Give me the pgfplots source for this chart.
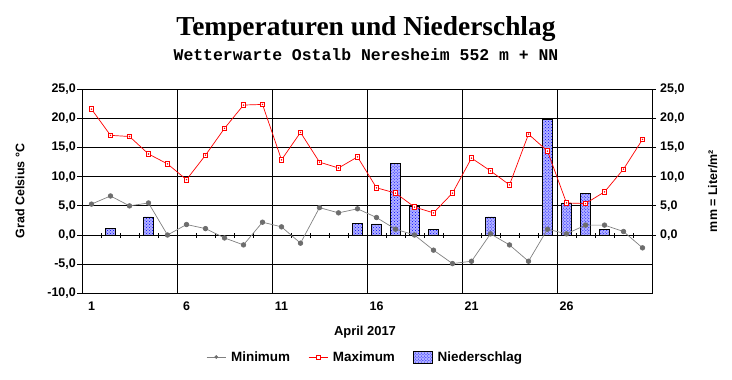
\documentclass[border=0pt]{standalone}
\usepackage{pgfplots}
\pgfplotsset{compat=1.18}
\usepackage{fontspec}
\setmainfont{Liberation Sans}
\newfontfamily\titlefont{Liberation Serif}
\newfontfamily\subfont{Liberation Mono}
\usetikzlibrary{patterns}
\definecolor{mingray}{RGB}{128,128,128}
\begin{document}
\begin{tikzpicture}
\useasboundingbox (0,0) rectangle (732bp,380bp);
\pgfplotsset{
  base/.style={scale only axis, width=570bp, height=204bp, at={(82bp,86.7bp)}, anchor=south west,
    xmin=0.5, xmax=30.5, ymin=-10, ymax=25},
  tl/.style={font=\bfseries\fontsize{12.5}{14}\selectfont},
}
% main axis
\begin{axis}[base,
  axis line style={line width=0.8bp, black},
  xtick={1,6,11,16,21,26},
  xticklabels={1,6,11,16,21,26},
  xtick style={draw=none},
  extra x ticks={5.5,10.5,15.5,20.5,25.5},
  extra x tick labels={},
  extra x tick style={grid=major, xtick style={draw=none}},
  ytick={-10,-5,0,5,10,15,20,25},
  yticklabels={{-10,0},{-5,0},{0,0},{5,0},{10,0},{15,0},{20,0},{25,0}},
  ytick pos=left,
  tick align=outside,
  major tick length=5bp,
  ytick style={line width=0.8bp, black},
  ymajorgrids,
  major grid style={line width=0.8bp, black},
  tick label style={tl},
  x tick label style={anchor=north, inner sep=0pt, yshift=-3bp},
  y tick label style={anchor=east, inner sep=0pt, xshift=-1bp},
  legend columns=3,
  legend style={at={(0.497,-0.3123)}, anchor=center, draw=none, fill=none,
    font=\bfseries\fontsize{13.5}{15}\selectfont,
    /tikz/every odd column/.append style={column sep=3bp},
    /tikz/every even column/.append style={column sep=16bp}},
]
% precipitation bars
\addplot[ybar, bar width=9.3bp, draw=black, line width=0.8bp, fill=blue!30!white,
  postaction={pattern=crosshatch dots, pattern color=blue}, forget plot]
  coordinates {(2,1.2)(4,3.1)(15,2.0)(16,1.9)(17,12.3)(18,4.9)(19,1.0)
               (22,3.1)(25,19.9)(26,5.5)(27,7.2)(28,1.0)};
% small ticks on zero line
\pgfplotsinvokeforeach{1.5,2.5,...,29.5}{
  \draw[line width=0.8bp, black] ([yshift=-2.5bp]axis cs:#1,0) -- ([yshift=2.5bp]axis cs:#1,0);
}
% minimum
\addplot[color=mingray, line width=0.7bp, mark=*, mark size=2.3bp,
  mark options={fill=mingray!85!black, draw=mingray!85!black}, forget plot]
  coordinates {(1,5.3)(2,6.7)(3,5.0)(4,5.5)(5,0.0)(6,1.8)(7,1.1)(8,-0.5)(9,-1.7)(10,2.2)
               (11,1.4)(12,-1.4)(13,4.7)(14,3.8)(15,4.5)(16,3.0)(17,1.0)(18,0.0)(19,-2.6)(20,-4.9)
               (21,-4.5)(22,0.2)(23,-1.7)(24,-4.5)(25,1.0)(26,0.2)(27,1.7)(28,1.7)(29,0.6)(30,-2.2)};
% maximum
\addplot[color=red, line width=0.7bp, mark=square*, mark size=2.3bp,
  mark options={fill=white, draw=red}, forget plot]
  coordinates {(1,21.6)(2,17.1)(3,16.9)(4,13.9)(5,12.2)(6,9.5)(7,13.7)(8,18.3)(9,22.3)(10,22.4)
               (11,12.9)(12,17.6)(13,12.5)(14,11.5)(15,13.4)(16,8.1)(17,7.2)(18,4.8)(19,3.8)(20,7.2)
               (21,13.2)(22,11.0)(23,8.6)(24,17.3)(25,14.4)(26,5.5)(27,5.4)(28,7.4)(29,11.3)(30,16.4)};
\addplot[only marks, mark=*, mark size=0.5bp, red, forget plot]
  coordinates {(1,21.6)(2,17.1)(3,16.9)(4,13.9)(5,12.2)(6,9.5)(7,13.7)(8,18.3)(9,22.3)(10,22.4)
               (11,12.9)(12,17.6)(13,12.5)(14,11.5)(15,13.4)(16,8.1)(17,7.2)(18,4.8)(19,3.8)(20,7.2)
               (21,13.2)(22,11.0)(23,8.6)(24,17.3)(25,14.4)(26,5.5)(27,5.4)(28,7.4)(29,11.3)(30,16.4)};
% legend
\addlegendimage{legend image code/.code={
  \draw[mingray, line width=0.7bp] (0bp,0bp) -- (19bp,0bp);
  \fill[mingray!85!black] (9.5bp,0bp) circle (1.7bp);}}
\addlegendentry{Minimum}
\addlegendimage{legend image code/.code={
  \draw[red, line width=0.8bp] (0bp,0bp) -- (19bp,0bp);
  \draw[red, line width=0.7bp, fill=white] (7.5bp,-2bp) rectangle (11.5bp,2bp);}}
\addlegendentry{Maximum}
\addlegendimage{legend image code/.code={\draw[draw=black, line width=0.8bp, fill=blue!30!white,
  postaction={pattern=crosshatch dots, pattern color=blue}] (0bp,-6bp) rectangle (19bp,6bp);}}
\addlegendentry{Niederschlag}
\end{axis}
% right axis
\begin{axis}[base,
  axis x line=none, axis y line*=right,
  axis line style={line width=0.8bp, black},
  ytick={0,5,10,15,20,25},
  yticklabels={{0,0},{5,0},{10,0},{15,0},{20,0},{25,0}},
  tick align=outside, major tick length=4bp,
  ytick style={line width=0.8bp, black},
  tick label style={tl},
  y tick label style={anchor=west, inner sep=0pt, xshift=4bp},
]
\end{axis}
% texts
\node[anchor=base, font=\titlefont\bfseries\fontsize{27.5}{30}\selectfont] at (366bp,344.3bp) {Temperaturen und Niederschlag};
\node[anchor=base, font=\subfont\bfseries\fontsize{16.5}{18}\selectfont] at (366bp,319.7bp) {Wetterwarte Ostalb Neresheim 552 m + NN};
\node[rotate=90, font=\bfseries\fontsize{12.5}{14}\selectfont] at (20bp,189bp) {Grad Celsius °C};
\node[rotate=90, font=\bfseries\fontsize{12.5}{14}\selectfont] at (712.7bp,189bp) {mm = Liter/m²};
\node[font=\bfseries\fontsize{13}{15}\selectfont] at (365bp,48.3bp) {April 2017};
\end{tikzpicture}
\end{document}
